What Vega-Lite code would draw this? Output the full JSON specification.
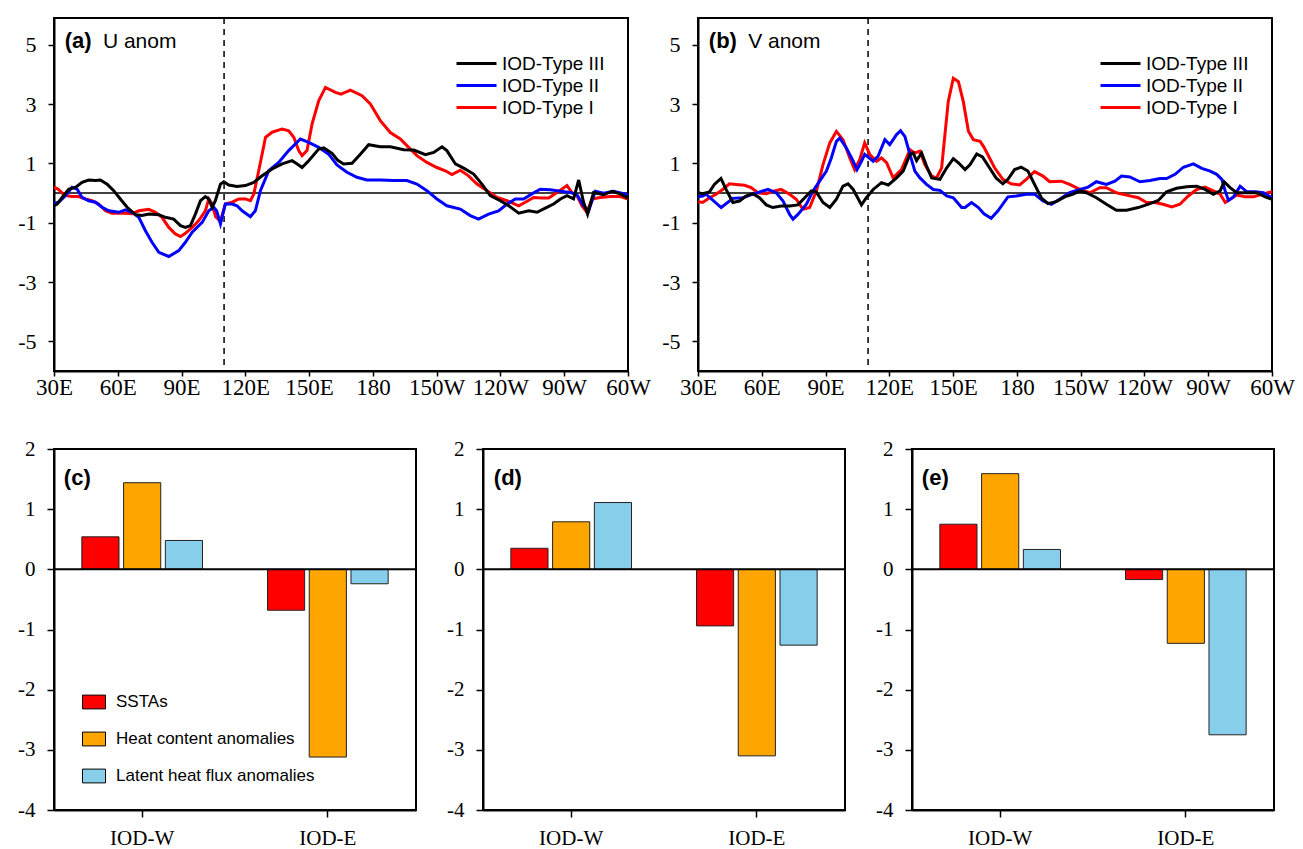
{
"$schema": "https://vega.github.io/schema/vega-lite/v6.json",
"background": "white",
"padding": {"left": 16, "top": 16, "right": 5, "bottom": 0},
"config": {
  "view": {"stroke": "black", "strokeWidth": 2},
  "axis": {"domainColor": "black", "domainWidth": 2, "tickColor": "black", "tickWidth": 1.5, "labelColor": "black", "labelFont": "Liberation Serif", "grid": false},
  "text": {"color": "black"}
},
"spacing": 37,
"datasets": {
"u": [
{"s":"IOD-Type I","lon":30,"val":0.2},{"s":"IOD-Type I","lon":32,"val":0.13},{"s":"IOD-Type I","lon":35,"val":-0.08},{"s":"IOD-Type I","lon":38.5,"val":-0.12},{"s":"IOD-Type I","lon":41.6,"val":-0.12},{"s":"IOD-Type I","lon":44.8,"val":-0.2},{"s":"IOD-Type I","lon":47.9,"val":-0.26},{"s":"IOD-Type I","lon":51,"val":-0.37},{"s":"IOD-Type I","lon":54.2,"val":-0.6},{"s":"IOD-Type I","lon":57.3,"val":-0.68},{"s":"IOD-Type I","lon":60.5,"val":-0.68},{"s":"IOD-Type I","lon":63.6,"val":-0.68},{"s":"IOD-Type I","lon":66.7,"val":-0.7},{"s":"IOD-Type I","lon":69.9,"val":-0.6},{"s":"IOD-Type I","lon":74.6,"val":-0.55},{"s":"IOD-Type I","lon":77.7,"val":-0.65},{"s":"IOD-Type I","lon":80.8,"val":-0.82},{"s":"IOD-Type I","lon":84,"val":-1.16},{"s":"IOD-Type I","lon":87.1,"val":-1.38},{"s":"IOD-Type I","lon":89.5,"val":-1.47},{"s":"IOD-Type I","lon":91.8,"val":-1.36},{"s":"IOD-Type I","lon":95,"val":-1.16},{"s":"IOD-Type I","lon":98.1,"val":-0.93},{"s":"IOD-Type I","lon":101.2,"val":-0.6},{"s":"IOD-Type I","lon":102.8,"val":-0.2},{"s":"IOD-Type I","lon":104.4,"val":-0.37},{"s":"IOD-Type I","lon":106,"val":-0.8},{"s":"IOD-Type I","lon":108.3,"val":-0.95},{"s":"IOD-Type I","lon":110.6,"val":-0.37},{"s":"IOD-Type I","lon":113.8,"val":-0.31},{"s":"IOD-Type I","lon":116.9,"val":-0.2},{"s":"IOD-Type I","lon":120,"val":-0.2},{"s":"IOD-Type I","lon":122.4,"val":-0.26},{"s":"IOD-Type I","lon":124,"val":-0.03},{"s":"IOD-Type I","lon":126.3,"val":0.75},{"s":"IOD-Type I","lon":129.5,"val":1.88},{"s":"IOD-Type I","lon":132.6,"val":2.05},{"s":"IOD-Type I","lon":137.3,"val":2.16},{"s":"IOD-Type I","lon":140.4,"val":2.1},{"s":"IOD-Type I","lon":142.8,"val":1.88},{"s":"IOD-Type I","lon":145.1,"val":1.43},{"s":"IOD-Type I","lon":146.7,"val":1.26},{"s":"IOD-Type I","lon":149,"val":1.43},{"s":"IOD-Type I","lon":151.4,"val":2.33},{"s":"IOD-Type I","lon":154.5,"val":3.11},{"s":"IOD-Type I","lon":157.7,"val":3.56},{"s":"IOD-Type I","lon":162.4,"val":3.39},{"s":"IOD-Type I","lon":165,"val":3.33},{"s":"IOD-Type I","lon":169.4,"val":3.47},{"s":"IOD-Type I","lon":174.9,"val":3.28},{"s":"IOD-Type I","lon":178.8,"val":3.0},{"s":"IOD-Type I","lon":183.5,"val":2.44},{"s":"IOD-Type I","lon":188.2,"val":2.04},{"s":"IOD-Type I","lon":192.9,"val":1.82},{"s":"IOD-Type I","lon":196.8,"val":1.54},{"s":"IOD-Type I","lon":200.7,"val":1.26},{"s":"IOD-Type I","lon":205.4,"val":1.03},{"s":"IOD-Type I","lon":210.1,"val":0.86},{"s":"IOD-Type I","lon":214.1,"val":0.75},{"s":"IOD-Type I","lon":217.2,"val":0.62},{"s":"IOD-Type I","lon":221.1,"val":0.77},{"s":"IOD-Type I","lon":225,"val":0.58},{"s":"IOD-Type I","lon":229,"val":0.3},{"s":"IOD-Type I","lon":233.7,"val":0.08},{"s":"IOD-Type I","lon":238.4,"val":-0.15},{"s":"IOD-Type I","lon":243.1,"val":-0.26},{"s":"IOD-Type I","lon":248.6,"val":-0.43},{"s":"IOD-Type I","lon":251.7,"val":-0.31},{"s":"IOD-Type I","lon":255.6,"val":-0.15},{"s":"IOD-Type I","lon":259.5,"val":-0.17},{"s":"IOD-Type I","lon":262.7,"val":-0.17},{"s":"IOD-Type I","lon":266.6,"val":0.02},{"s":"IOD-Type I","lon":271.3,"val":0.25},{"s":"IOD-Type I","lon":273.6,"val":0.02},{"s":"IOD-Type I","lon":276,"val":-0.09},{"s":"IOD-Type I","lon":278.3,"val":-0.43},{"s":"IOD-Type I","lon":280.7,"val":-0.65},{"s":"IOD-Type I","lon":283.1,"val":-0.2},{"s":"IOD-Type I","lon":287,"val":-0.15},{"s":"IOD-Type I","lon":291.7,"val":-0.12},{"s":"IOD-Type I","lon":296.4,"val":-0.12},{"s":"IOD-Type I","lon":300,"val":-0.2},
{"s":"IOD-Type II","lon":30,"val":-0.35},{"s":"IOD-Type II","lon":32.2,"val":-0.31},{"s":"IOD-Type II","lon":35.4,"val":-0.09},{"s":"IOD-Type II","lon":38.5,"val":0.19},{"s":"IOD-Type II","lon":40.9,"val":0.13},{"s":"IOD-Type II","lon":43.2,"val":-0.15},{"s":"IOD-Type II","lon":46.3,"val":-0.26},{"s":"IOD-Type II","lon":49.5,"val":-0.31},{"s":"IOD-Type II","lon":52.6,"val":-0.48},{"s":"IOD-Type II","lon":55.8,"val":-0.6},{"s":"IOD-Type II","lon":60.5,"val":-0.65},{"s":"IOD-Type II","lon":63.6,"val":-0.57},{"s":"IOD-Type II","lon":66.7,"val":-0.65},{"s":"IOD-Type II","lon":69.9,"val":-0.82},{"s":"IOD-Type II","lon":73,"val":-1.27},{"s":"IOD-Type II","lon":76.1,"val":-1.66},{"s":"IOD-Type II","lon":79.3,"val":-2.0},{"s":"IOD-Type II","lon":84,"val":-2.14},{"s":"IOD-Type II","lon":88.7,"val":-1.94},{"s":"IOD-Type II","lon":91.8,"val":-1.66},{"s":"IOD-Type II","lon":95,"val":-1.32},{"s":"IOD-Type II","lon":99.7,"val":-0.99},{"s":"IOD-Type II","lon":102.8,"val":-0.6},{"s":"IOD-Type II","lon":105.1,"val":-0.48},{"s":"IOD-Type II","lon":106.5,"val":-0.6},{"s":"IOD-Type II","lon":108.3,"val":-1.04},{"s":"IOD-Type II","lon":110.6,"val":-0.37},{"s":"IOD-Type II","lon":113.8,"val":-0.37},{"s":"IOD-Type II","lon":116.1,"val":-0.43},{"s":"IOD-Type II","lon":118.5,"val":-0.6},{"s":"IOD-Type II","lon":122.4,"val":-0.8},{"s":"IOD-Type II","lon":124.7,"val":-0.6},{"s":"IOD-Type II","lon":127.1,"val":0.08},{"s":"IOD-Type II","lon":131,"val":0.75},{"s":"IOD-Type II","lon":135.7,"val":1.03},{"s":"IOD-Type II","lon":140.4,"val":1.43},{"s":"IOD-Type II","lon":145.9,"val":1.82},{"s":"IOD-Type II","lon":149.8,"val":1.71},{"s":"IOD-Type II","lon":154.5,"val":1.54},{"s":"IOD-Type II","lon":159.2,"val":1.31},{"s":"IOD-Type II","lon":163.1,"val":0.95},{"s":"IOD-Type II","lon":167.8,"val":0.7},{"s":"IOD-Type II","lon":172.5,"val":0.53},{"s":"IOD-Type II","lon":177.2,"val":0.44},{"s":"IOD-Type II","lon":183.5,"val":0.44},{"s":"IOD-Type II","lon":189.8,"val":0.42},{"s":"IOD-Type II","lon":196,"val":0.42},{"s":"IOD-Type II","lon":200.7,"val":0.3},{"s":"IOD-Type II","lon":205.4,"val":0.08},{"s":"IOD-Type II","lon":210.1,"val":-0.2},{"s":"IOD-Type II","lon":214.8,"val":-0.43},{"s":"IOD-Type II","lon":221.1,"val":-0.54},{"s":"IOD-Type II","lon":225.8,"val":-0.76},{"s":"IOD-Type II","lon":229.7,"val":-0.88},{"s":"IOD-Type II","lon":234.4,"val":-0.71},{"s":"IOD-Type II","lon":239.1,"val":-0.6},{"s":"IOD-Type II","lon":243.1,"val":-0.37},{"s":"IOD-Type II","lon":247,"val":-0.2},{"s":"IOD-Type II","lon":250.9,"val":-0.2},{"s":"IOD-Type II","lon":254.8,"val":-0.03},{"s":"IOD-Type II","lon":258.7,"val":0.13},{"s":"IOD-Type II","lon":263.5,"val":0.11},{"s":"IOD-Type II","lon":268.2,"val":0.06},{"s":"IOD-Type II","lon":272.9,"val":0.02},{"s":"IOD-Type II","lon":276,"val":-0.06},{"s":"IOD-Type II","lon":279.1,"val":-0.43},{"s":"IOD-Type II","lon":281.5,"val":-0.6},{"s":"IOD-Type II","lon":284.6,"val":0.06},{"s":"IOD-Type II","lon":288.5,"val":-0.01},{"s":"IOD-Type II","lon":293.2,"val":0.06},{"s":"IOD-Type II","lon":300,"val":-0.06},
{"s":"IOD-Type III","lon":30,"val":-0.43},{"s":"IOD-Type III","lon":31.5,"val":-0.37},{"s":"IOD-Type III","lon":33.8,"val":-0.15},{"s":"IOD-Type III","lon":37,"val":0.13},{"s":"IOD-Type III","lon":40.1,"val":0.19},{"s":"IOD-Type III","lon":43.2,"val":0.36},{"s":"IOD-Type III","lon":46.3,"val":0.44},{"s":"IOD-Type III","lon":49.5,"val":0.42},{"s":"IOD-Type III","lon":51.8,"val":0.44},{"s":"IOD-Type III","lon":55,"val":0.3},{"s":"IOD-Type III","lon":58.1,"val":0.08},{"s":"IOD-Type III","lon":61.2,"val":-0.2},{"s":"IOD-Type III","lon":64.4,"val":-0.48},{"s":"IOD-Type III","lon":68.3,"val":-0.73},{"s":"IOD-Type III","lon":71.4,"val":-0.76},{"s":"IOD-Type III","lon":74.6,"val":-0.71},{"s":"IOD-Type III","lon":79.3,"val":-0.73},{"s":"IOD-Type III","lon":82.4,"val":-0.82},{"s":"IOD-Type III","lon":86.3,"val":-0.88},{"s":"IOD-Type III","lon":89.5,"val":-1.1},{"s":"IOD-Type III","lon":91.8,"val":-1.16},{"s":"IOD-Type III","lon":94.2,"val":-1.1},{"s":"IOD-Type III","lon":96.5,"val":-0.71},{"s":"IOD-Type III","lon":98.9,"val":-0.26},{"s":"IOD-Type III","lon":101.2,"val":-0.12},{"s":"IOD-Type III","lon":102.8,"val":-0.2},{"s":"IOD-Type III","lon":104.4,"val":-0.48},{"s":"IOD-Type III","lon":105.9,"val":-0.26},{"s":"IOD-Type III","lon":108.3,"val":0.3},{"s":"IOD-Type III","lon":109.9,"val":0.38},{"s":"IOD-Type III","lon":112.2,"val":0.27},{"s":"IOD-Type III","lon":116.1,"val":0.22},{"s":"IOD-Type III","lon":120,"val":0.25},{"s":"IOD-Type III","lon":124,"val":0.36},{"s":"IOD-Type III","lon":127.9,"val":0.58},{"s":"IOD-Type III","lon":132.6,"val":0.81},{"s":"IOD-Type III","lon":137.3,"val":0.98},{"s":"IOD-Type III","lon":142,"val":1.09},{"s":"IOD-Type III","lon":144.4,"val":0.98},{"s":"IOD-Type III","lon":146.7,"val":0.86},{"s":"IOD-Type III","lon":149.8,"val":1.09},{"s":"IOD-Type III","lon":154.5,"val":1.48},{"s":"IOD-Type III","lon":156.9,"val":1.52},{"s":"IOD-Type III","lon":160.8,"val":1.34},{"s":"IOD-Type III","lon":163.5,"val":1.1},{"s":"IOD-Type III","lon":166.2,"val":0.98},{"s":"IOD-Type III","lon":170.2,"val":1.0},{"s":"IOD-Type III","lon":174.1,"val":1.31},{"s":"IOD-Type III","lon":178,"val":1.63},{"s":"IOD-Type III","lon":183.5,"val":1.56},{"s":"IOD-Type III","lon":188.2,"val":1.56},{"s":"IOD-Type III","lon":194.5,"val":1.46},{"s":"IOD-Type III","lon":199.2,"val":1.45},{"s":"IOD-Type III","lon":204.7,"val":1.29},{"s":"IOD-Type III","lon":208.6,"val":1.37},{"s":"IOD-Type III","lon":212.5,"val":1.56},{"s":"IOD-Type III","lon":214.8,"val":1.43},{"s":"IOD-Type III","lon":218.8,"val":0.98},{"s":"IOD-Type III","lon":222.7,"val":0.84},{"s":"IOD-Type III","lon":227.4,"val":0.64},{"s":"IOD-Type III","lon":231.3,"val":0.3},{"s":"IOD-Type III","lon":235.2,"val":-0.09},{"s":"IOD-Type III","lon":239.9,"val":-0.26},{"s":"IOD-Type III","lon":243.9,"val":-0.43},{"s":"IOD-Type III","lon":248.6,"val":-0.68},{"s":"IOD-Type III","lon":253.3,"val":-0.6},{"s":"IOD-Type III","lon":257.2,"val":-0.65},{"s":"IOD-Type III","lon":261.1,"val":-0.51},{"s":"IOD-Type III","lon":265,"val":-0.37},{"s":"IOD-Type III","lon":268.2,"val":-0.2},{"s":"IOD-Type III","lon":271.3,"val":-0.09},{"s":"IOD-Type III","lon":274.4,"val":-0.2},{"s":"IOD-Type III","lon":276.8,"val":0.44},{"s":"IOD-Type III","lon":279.1,"val":-0.31},{"s":"IOD-Type III","lon":281,"val":-0.71},{"s":"IOD-Type III","lon":283.8,"val":0.02},{"s":"IOD-Type III","lon":288.5,"val":-0.06},{"s":"IOD-Type III","lon":292.5,"val":0.06},{"s":"IOD-Type III","lon":296.4,"val":-0.03},{"s":"IOD-Type III","lon":300,"val":-0.17}
],
"v": [
{"s":"IOD-Type I","lon":30,"val":-0.29},{"s":"IOD-Type I","lon":32.2,"val":-0.32},{"s":"IOD-Type I","lon":35.4,"val":-0.16},{"s":"IOD-Type I","lon":38.5,"val":-0.04},{"s":"IOD-Type I","lon":41.6,"val":0.12},{"s":"IOD-Type I","lon":44.8,"val":0.31},{"s":"IOD-Type I","lon":47.9,"val":0.29},{"s":"IOD-Type I","lon":51.9,"val":0.26},{"s":"IOD-Type I","lon":55,"val":0.18},{"s":"IOD-Type I","lon":58.1,"val":0.01},{"s":"IOD-Type I","lon":62.1,"val":-0.02},{"s":"IOD-Type I","lon":66,"val":0.07},{"s":"IOD-Type I","lon":69.1,"val":0.12},{"s":"IOD-Type I","lon":73.1,"val":-0.04},{"s":"IOD-Type I","lon":76.2,"val":-0.21},{"s":"IOD-Type I","lon":79.4,"val":-0.55},{"s":"IOD-Type I","lon":82.5,"val":-0.49},{"s":"IOD-Type I","lon":85.7,"val":0.07},{"s":"IOD-Type I","lon":88.8,"val":0.96},{"s":"IOD-Type I","lon":92,"val":1.69},{"s":"IOD-Type I","lon":95.1,"val":2.08},{"s":"IOD-Type I","lon":98.2,"val":1.8},{"s":"IOD-Type I","lon":101.4,"val":1.18},{"s":"IOD-Type I","lon":103.7,"val":0.79},{"s":"IOD-Type I","lon":106.1,"val":1.13},{"s":"IOD-Type I","lon":108.4,"val":1.69},{"s":"IOD-Type I","lon":110.8,"val":1.3},{"s":"IOD-Type I","lon":114,"val":1.07},{"s":"IOD-Type I","lon":116.3,"val":1.18},{"s":"IOD-Type I","lon":118.7,"val":1.02},{"s":"IOD-Type I","lon":121.8,"val":0.51},{"s":"IOD-Type I","lon":125.7,"val":0.79},{"s":"IOD-Type I","lon":129.7,"val":1.46},{"s":"IOD-Type I","lon":132,"val":1.35},{"s":"IOD-Type I","lon":134.4,"val":1.41},{"s":"IOD-Type I","lon":136.7,"val":0.96},{"s":"IOD-Type I","lon":139.9,"val":0.57},{"s":"IOD-Type I","lon":142.2,"val":0.51},{"s":"IOD-Type I","lon":144.6,"val":0.85},{"s":"IOD-Type I","lon":147.7,"val":3.08},{"s":"IOD-Type I","lon":150.1,"val":3.87},{"s":"IOD-Type I","lon":152.5,"val":3.75},{"s":"IOD-Type I","lon":154.8,"val":3.08},{"s":"IOD-Type I","lon":157.2,"val":2.08},{"s":"IOD-Type I","lon":159.5,"val":1.8},{"s":"IOD-Type I","lon":162.7,"val":1.74},{"s":"IOD-Type I","lon":164.5,"val":1.55},{"s":"IOD-Type I","lon":166.3,"val":1.3},{"s":"IOD-Type I","lon":169.5,"val":0.85},{"s":"IOD-Type I","lon":173.4,"val":0.46},{"s":"IOD-Type I","lon":177.3,"val":0.31},{"s":"IOD-Type I","lon":181.3,"val":0.27},{"s":"IOD-Type I","lon":184.4,"val":0.46},{"s":"IOD-Type I","lon":188.3,"val":0.72},{"s":"IOD-Type I","lon":192.3,"val":0.57},{"s":"IOD-Type I","lon":195.4,"val":0.38},{"s":"IOD-Type I","lon":200.9,"val":0.4},{"s":"IOD-Type I","lon":204.8,"val":0.29},{"s":"IOD-Type I","lon":209.6,"val":0.12},{"s":"IOD-Type I","lon":214.3,"val":0.01},{"s":"IOD-Type I","lon":219,"val":0.18},{"s":"IOD-Type I","lon":222.1,"val":0.18},{"s":"IOD-Type I","lon":226.8,"val":0.01},{"s":"IOD-Type I","lon":231.6,"val":-0.07},{"s":"IOD-Type I","lon":237.1,"val":-0.16},{"s":"IOD-Type I","lon":241,"val":-0.32},{"s":"IOD-Type I","lon":244.9,"val":-0.32},{"s":"IOD-Type I","lon":248.8,"val":-0.38},{"s":"IOD-Type I","lon":252.8,"val":-0.47},{"s":"IOD-Type I","lon":256.7,"val":-0.38},{"s":"IOD-Type I","lon":260.6,"val":-0.1},{"s":"IOD-Type I","lon":264.6,"val":0.12},{"s":"IOD-Type I","lon":268.5,"val":0.2},{"s":"IOD-Type I","lon":272.4,"val":0.07},{"s":"IOD-Type I","lon":275.6,"val":-0.04},{"s":"IOD-Type I","lon":278,"val":-0.32},{"s":"IOD-Type I","lon":280.3,"val":-0.21},{"s":"IOD-Type I","lon":283.4,"val":-0.07},{"s":"IOD-Type I","lon":287.4,"val":-0.13},{"s":"IOD-Type I","lon":291.3,"val":-0.13},{"s":"IOD-Type I","lon":295.2,"val":-0.04},{"s":"IOD-Type I","lon":300,"val":0.04},
{"s":"IOD-Type II","lon":30,"val":-0.13},{"s":"IOD-Type II","lon":32.2,"val":-0.1},{"s":"IOD-Type II","lon":33.8,"val":-0.04},{"s":"IOD-Type II","lon":40.9,"val":-0.49},{"s":"IOD-Type II","lon":46.4,"val":-0.18},{"s":"IOD-Type II","lon":51.1,"val":-0.16},{"s":"IOD-Type II","lon":55.8,"val":-0.04},{"s":"IOD-Type II","lon":60.5,"val":0.07},{"s":"IOD-Type II","lon":62.9,"val":0.12},{"s":"IOD-Type II","lon":66.8,"val":0.01},{"s":"IOD-Type II","lon":70,"val":-0.27},{"s":"IOD-Type II","lon":73.1,"val":-0.72},{"s":"IOD-Type II","lon":74.7,"val":-0.88},{"s":"IOD-Type II","lon":77,"val":-0.72},{"s":"IOD-Type II","lon":81,"val":-0.38},{"s":"IOD-Type II","lon":84.1,"val":0.07},{"s":"IOD-Type II","lon":87.2,"val":0.4},{"s":"IOD-Type II","lon":90.4,"val":0.74},{"s":"IOD-Type II","lon":92.7,"val":1.18},{"s":"IOD-Type II","lon":95.1,"val":1.74},{"s":"IOD-Type II","lon":96.7,"val":1.85},{"s":"IOD-Type II","lon":99.8,"val":1.52},{"s":"IOD-Type II","lon":103,"val":1.07},{"s":"IOD-Type II","lon":104.8,"val":0.79},{"s":"IOD-Type II","lon":106.9,"val":1.07},{"s":"IOD-Type II","lon":108.4,"val":1.3},{"s":"IOD-Type II","lon":112.4,"val":1.07},{"s":"IOD-Type II","lon":114.7,"val":1.24},{"s":"IOD-Type II","lon":117.9,"val":1.8},{"s":"IOD-Type II","lon":120.2,"val":1.63},{"s":"IOD-Type II","lon":123.4,"val":1.97},{"s":"IOD-Type II","lon":125.3,"val":2.1},{"s":"IOD-Type II","lon":127.3,"val":1.91},{"s":"IOD-Type II","lon":129.7,"val":1.3},{"s":"IOD-Type II","lon":132,"val":0.74},{"s":"IOD-Type II","lon":134.4,"val":0.51},{"s":"IOD-Type II","lon":137.5,"val":0.29},{"s":"IOD-Type II","lon":140.7,"val":0.12},{"s":"IOD-Type II","lon":143.8,"val":0.09},{"s":"IOD-Type II","lon":147,"val":-0.1},{"s":"IOD-Type II","lon":150.1,"val":-0.16},{"s":"IOD-Type II","lon":154,"val":-0.49},{"s":"IOD-Type II","lon":155.6,"val":-0.49},{"s":"IOD-Type II","lon":158.7,"val":-0.32},{"s":"IOD-Type II","lon":161.9,"val":-0.49},{"s":"IOD-Type II","lon":164.5,"val":-0.7},{"s":"IOD-Type II","lon":167.9,"val":-0.85},{"s":"IOD-Type II","lon":171.1,"val":-0.6},{"s":"IOD-Type II","lon":175.8,"val":-0.13},{"s":"IOD-Type II","lon":179.7,"val":-0.1},{"s":"IOD-Type II","lon":184.4,"val":-0.04},{"s":"IOD-Type II","lon":188.3,"val":-0.04},{"s":"IOD-Type II","lon":192.3,"val":-0.27},{"s":"IOD-Type II","lon":196.2,"val":-0.38},{"s":"IOD-Type II","lon":200.1,"val":-0.21},{"s":"IOD-Type II","lon":204.8,"val":0.01},{"s":"IOD-Type II","lon":209.6,"val":0.12},{"s":"IOD-Type II","lon":213.5,"val":0.2},{"s":"IOD-Type II","lon":217.4,"val":0.38},{"s":"IOD-Type II","lon":222.1,"val":0.29},{"s":"IOD-Type II","lon":226.1,"val":0.4},{"s":"IOD-Type II","lon":229.2,"val":0.57},{"s":"IOD-Type II","lon":233.1,"val":0.54},{"s":"IOD-Type II","lon":237.9,"val":0.38},{"s":"IOD-Type II","lon":242.6,"val":0.42},{"s":"IOD-Type II","lon":247.3,"val":0.49},{"s":"IOD-Type II","lon":250.4,"val":0.49},{"s":"IOD-Type II","lon":254.4,"val":0.63},{"s":"IOD-Type II","lon":258.3,"val":0.87},{"s":"IOD-Type II","lon":263,"val":0.98},{"s":"IOD-Type II","lon":267,"val":0.83},{"s":"IOD-Type II","lon":270.9,"val":0.74},{"s":"IOD-Type II","lon":274,"val":0.63},{"s":"IOD-Type II","lon":276.4,"val":0.46},{"s":"IOD-Type II","lon":278,"val":0.07},{"s":"IOD-Type II","lon":279.5,"val":-0.25},{"s":"IOD-Type II","lon":281.9,"val":-0.13},{"s":"IOD-Type II","lon":285,"val":0.23},{"s":"IOD-Type II","lon":288.2,"val":0.04},{"s":"IOD-Type II","lon":292.1,"val":0.04},{"s":"IOD-Type II","lon":296,"val":0.01},{"s":"IOD-Type II","lon":300,"val":-0.16},
{"s":"IOD-Type III","lon":30,"val":0.01},{"s":"IOD-Type III","lon":32.2,"val":-0.02},{"s":"IOD-Type III","lon":35.4,"val":0.04},{"s":"IOD-Type III","lon":37.7,"val":0.29},{"s":"IOD-Type III","lon":40.8,"val":0.49},{"s":"IOD-Type III","lon":43.2,"val":0.12},{"s":"IOD-Type III","lon":46.4,"val":-0.32},{"s":"IOD-Type III","lon":49.5,"val":-0.27},{"s":"IOD-Type III","lon":52.6,"val":-0.1},{"s":"IOD-Type III","lon":55.8,"val":-0.02},{"s":"IOD-Type III","lon":58.9,"val":-0.16},{"s":"IOD-Type III","lon":62.1,"val":-0.4},{"s":"IOD-Type III","lon":65.2,"val":-0.49},{"s":"IOD-Type III","lon":69.1,"val":-0.44},{"s":"IOD-Type III","lon":73.1,"val":-0.44},{"s":"IOD-Type III","lon":77,"val":-0.4},{"s":"IOD-Type III","lon":80.2,"val":-0.16},{"s":"IOD-Type III","lon":83.3,"val":0.07},{"s":"IOD-Type III","lon":85.7,"val":0.03},{"s":"IOD-Type III","lon":88.8,"val":-0.32},{"s":"IOD-Type III","lon":92,"val":-0.49},{"s":"IOD-Type III","lon":95.1,"val":-0.21},{"s":"IOD-Type III","lon":98.2,"val":0.23},{"s":"IOD-Type III","lon":100.6,"val":0.31},{"s":"IOD-Type III","lon":103,"val":0.12},{"s":"IOD-Type III","lon":106.9,"val":-0.4},{"s":"IOD-Type III","lon":109.2,"val":-0.16},{"s":"IOD-Type III","lon":112.4,"val":0.12},{"s":"IOD-Type III","lon":116.3,"val":0.35},{"s":"IOD-Type III","lon":119.5,"val":0.27},{"s":"IOD-Type III","lon":123.4,"val":0.51},{"s":"IOD-Type III","lon":126.5,"val":0.74},{"s":"IOD-Type III","lon":129.7,"val":1.3},{"s":"IOD-Type III","lon":131.2,"val":1.35},{"s":"IOD-Type III","lon":132.8,"val":1.09},{"s":"IOD-Type III","lon":135.2,"val":1.35},{"s":"IOD-Type III","lon":137.5,"val":0.91},{"s":"IOD-Type III","lon":139.9,"val":0.51},{"s":"IOD-Type III","lon":143.8,"val":0.46},{"s":"IOD-Type III","lon":147,"val":0.85},{"s":"IOD-Type III","lon":150.1,"val":1.16},{"s":"IOD-Type III","lon":152.5,"val":1.02},{"s":"IOD-Type III","lon":155.6,"val":0.79},{"s":"IOD-Type III","lon":158,"val":0.96},{"s":"IOD-Type III","lon":161.1,"val":1.32},{"s":"IOD-Type III","lon":163.8,"val":1.22},{"s":"IOD-Type III","lon":167.1,"val":0.85},{"s":"IOD-Type III","lon":170.2,"val":0.51},{"s":"IOD-Type III","lon":173.4,"val":0.31},{"s":"IOD-Type III","lon":175.8,"val":0.46},{"s":"IOD-Type III","lon":178.9,"val":0.79},{"s":"IOD-Type III","lon":182,"val":0.87},{"s":"IOD-Type III","lon":185.2,"val":0.74},{"s":"IOD-Type III","lon":188.3,"val":0.29},{"s":"IOD-Type III","lon":191.5,"val":-0.16},{"s":"IOD-Type III","lon":194.6,"val":-0.36},{"s":"IOD-Type III","lon":198.5,"val":-0.29},{"s":"IOD-Type III","lon":202.5,"val":-0.13},{"s":"IOD-Type III","lon":206.4,"val":-0.04},{"s":"IOD-Type III","lon":209.6,"val":0.07},{"s":"IOD-Type III","lon":212.7,"val":0.01},{"s":"IOD-Type III","lon":217.4,"val":-0.16},{"s":"IOD-Type III","lon":222.1,"val":-0.38},{"s":"IOD-Type III","lon":226.8,"val":-0.58},{"s":"IOD-Type III","lon":231.6,"val":-0.58},{"s":"IOD-Type III","lon":237.1,"val":-0.49},{"s":"IOD-Type III","lon":242.6,"val":-0.36},{"s":"IOD-Type III","lon":246.5,"val":-0.25},{"s":"IOD-Type III","lon":250.4,"val":0.04},{"s":"IOD-Type III","lon":255.1,"val":0.16},{"s":"IOD-Type III","lon":259.9,"val":0.21},{"s":"IOD-Type III","lon":264.6,"val":0.23},{"s":"IOD-Type III","lon":268.5,"val":0.12},{"s":"IOD-Type III","lon":272.4,"val":-0.04},{"s":"IOD-Type III","lon":275.6,"val":0.07},{"s":"IOD-Type III","lon":277.5,"val":0.38},{"s":"IOD-Type III","lon":280.3,"val":0.18},{"s":"IOD-Type III","lon":283.4,"val":0.01},{"s":"IOD-Type III","lon":288.2,"val":0.01},{"s":"IOD-Type III","lon":292.9,"val":0.01},{"s":"IOD-Type III","lon":296.8,"val":-0.13},{"s":"IOD-Type III","lon":300,"val":-0.21}
],
"bars": [
{"panel":"c","region":"IOD-W","var":"SSTAs","val":0.54},{"panel":"c","region":"IOD-W","var":"Heat content anomalies","val":1.44},{"panel":"c","region":"IOD-W","var":"Latent heat flux anomalies","val":0.48},
{"panel":"c","region":"IOD-E","var":"SSTAs","val":-0.68},{"panel":"c","region":"IOD-E","var":"Heat content anomalies","val":-3.12},{"panel":"c","region":"IOD-E","var":"Latent heat flux anomalies","val":-0.24},
{"panel":"d","region":"IOD-W","var":"SSTAs","val":0.35},{"panel":"d","region":"IOD-W","var":"Heat content anomalies","val":0.79},{"panel":"d","region":"IOD-W","var":"Latent heat flux anomalies","val":1.11},
{"panel":"d","region":"IOD-E","var":"SSTAs","val":-0.94},{"panel":"d","region":"IOD-E","var":"Heat content anomalies","val":-3.1},{"panel":"d","region":"IOD-E","var":"Latent heat flux anomalies","val":-1.26},
{"panel":"e","region":"IOD-W","var":"SSTAs","val":0.75},{"panel":"e","region":"IOD-W","var":"Heat content anomalies","val":1.59},{"panel":"e","region":"IOD-W","var":"Latent heat flux anomalies","val":0.33},
{"panel":"e","region":"IOD-E","var":"SSTAs","val":-0.17},{"panel":"e","region":"IOD-E","var":"Heat content anomalies","val":-1.23},{"panel":"e","region":"IOD-E","var":"Latent heat flux anomalies","val":-2.75}
]
},
"vconcat": [
{
 "hconcat": [
  {
   "width": 574, "height": 353,
   "layer": [
    {"data": {"values": [{"k": 1}]}, "mark": {"type": "rule", "color": "black", "strokeWidth": 1.3}, "encoding": {"y": {"datum": 0, "type": "quantitative"}}},
    {"data": {"values": [{"k": 1}]}, "mark": {"type": "rule", "color": "black", "strokeWidth": 1.5, "strokeDash": [6, 5]}, "encoding": {"x": {"datum": 110, "type": "quantitative"}}},
    {"data": {"name": "u"}, "mark": {"type": "line", "strokeWidth": 3},
     "encoding": {
      "x": {"field": "lon", "type": "quantitative", "scale": {"domain": [30, 300], "nice": false, "zero": false},
            "axis": {"title": null, "values": [30,60,90,120,150,180,210,240,270,300], "labelExpr": "datum.value < 180 ? datum.value + 'E' : (datum.value == 180 ? '180' : (360 - datum.value) + 'W')", "labelFontSize": 23, "labelFlush": false, "labelOverlap": false, "tickSize": 5, "labelPadding": 0}},
      "y": {"field": "val", "type": "quantitative", "scale": {"domain": [-6, 5.9], "nice": false, "zero": false},
            "axis": {"title": null, "values": [-5,-3,-1,1,3,5], "labelExpr": "'' + datum.value", "labelFontSize": 22, "tickSize": 6, "labelPadding": 12}},
      "color": {"field": "s", "type": "nominal", "scale": {"domain": ["IOD-Type III", "IOD-Type II", "IOD-Type I"], "range": ["#000000", "#0000FF", "#FF0000"]},
            "legend": {"title": null, "orient": "none", "legendX": 401, "legendY": 36, "symbolType": "stroke", "symbolSize": 1600, "symbolStrokeWidth": 3, "clipHeight": 19, "labelFont": "Liberation Sans", "labelFontSize": 19, "labelColor": "black", "labelLimit": 400, "rowPadding": 2, "labelOffset": 4, "padding": 0}}
     }},
    {"data": {"values": [{"t": "(a)"}]}, "mark": {"type": "text", "font": "Liberation Sans", "fontWeight": "bold", "fontSize": 22, "align": "left", "baseline": "alphabetic"}, "encoding": {"x": {"datum": 35, "type": "quantitative"}, "y": {"datum": 4.89, "type": "quantitative"}, "text": {"field": "t"}}},
    {"data": {"values": [{"t": "U anom"}]}, "mark": {"type": "text", "font": "Liberation Sans", "fontSize": 21, "align": "left", "baseline": "alphabetic"}, "encoding": {"x": {"datum": 53, "type": "quantitative"}, "y": {"datum": 4.89, "type": "quantitative"}, "text": {"field": "t"}}}
   ]
  },
  {
   "width": 574, "height": 353,
   "layer": [
    {"data": {"values": [{"k": 1}]}, "mark": {"type": "rule", "color": "black", "strokeWidth": 1.3}, "encoding": {"y": {"datum": 0, "type": "quantitative"}}},
    {"data": {"values": [{"k": 1}]}, "mark": {"type": "rule", "color": "black", "strokeWidth": 1.5, "strokeDash": [6, 5]}, "encoding": {"x": {"datum": 110, "type": "quantitative"}}},
    {"data": {"name": "v"}, "mark": {"type": "line", "strokeWidth": 3},
     "encoding": {
      "x": {"field": "lon", "type": "quantitative", "scale": {"domain": [30, 300], "nice": false, "zero": false},
            "axis": {"title": null, "values": [30,60,90,120,150,180,210,240,270,300], "labelExpr": "datum.value < 180 ? datum.value + 'E' : (datum.value == 180 ? '180' : (360 - datum.value) + 'W')", "labelFontSize": 23, "labelFlush": false, "labelOverlap": false, "tickSize": 5, "labelPadding": 0}},
      "y": {"field": "val", "type": "quantitative", "scale": {"domain": [-6, 5.9], "nice": false, "zero": false},
            "axis": {"title": null, "values": [-5,-3,-1,1,3,5], "labelExpr": "'' + datum.value", "labelFontSize": 22, "tickSize": 6, "labelPadding": 12}},
      "color": {"field": "s", "type": "nominal", "scale": {"domain": ["IOD-Type III", "IOD-Type II", "IOD-Type I"], "range": ["#000000", "#0000FF", "#FF0000"]},
            "legend": {"title": null, "orient": "none", "legendX": 401, "legendY": 36, "symbolType": "stroke", "symbolSize": 1600, "symbolStrokeWidth": 3, "clipHeight": 19, "labelFont": "Liberation Sans", "labelFontSize": 19, "labelColor": "black", "labelLimit": 400, "rowPadding": 2, "labelOffset": 4, "padding": 0}}
     }},
    {"data": {"values": [{"t": "(b)"}]}, "mark": {"type": "text", "font": "Liberation Sans", "fontWeight": "bold", "fontSize": 22, "align": "left", "baseline": "alphabetic"}, "encoding": {"x": {"datum": 35.1, "type": "quantitative"}, "y": {"datum": 4.89, "type": "quantitative"}, "text": {"field": "t"}}},
    {"data": {"values": [{"t": "V anom"}]}, "mark": {"type": "text", "font": "Liberation Sans", "fontSize": 21, "align": "left", "baseline": "alphabetic"}, "encoding": {"x": {"datum": 53.6, "type": "quantitative"}, "y": {"datum": 4.89, "type": "quantitative"}, "text": {"field": "t"}}}
   ]
  }
 ],
 "spacing": 70,
 "bounds": "flush",
 "resolve": {"scale": {"color": "independent", "x": "independent", "y": "independent"}, "legend": {"color": "independent"}}
},
{
 "hconcat": [
  {
   "width": 362, "height": 361,
   "layer": [
    {"data": {"name": "bars"}, "transform": [{"filter": "datum.panel == 'c'"}], "mark": {"type": "bar", "stroke": "#222222", "strokeWidth": 1},
     "encoding": {
      "x": {"field": "region", "type": "nominal", "sort": ["IOD-W", "IOD-E"], "scale": {"paddingInner": 0.35, "paddingOuter": 0.15},
            "axis": {"title": null, "labelAngle": 0, "labelFontSize": 21, "tickSize": 7, "labelPadding": 10}},
      "xOffset": {"field": "var", "type": "nominal", "sort": ["SSTAs", "Heat content anomalies", "Latent heat flux anomalies"], "scale": {"paddingInner": 0.11, "paddingOuter": 0}},
      "y": {"field": "val", "type": "quantitative", "scale": {"domain": [-4, 2], "nice": false},
            "axis": {"title": null, "values": [-4,-3,-2,-1,0,1,2], "labelExpr": "'' + datum.value", "labelFontSize": 21, "tickSize": 7, "labelPadding": 12}},
      "color": {"field": "var", "type": "nominal", "scale": {"domain": ["SSTAs", "Heat content anomalies", "Latent heat flux anomalies"], "range": ["#FF0000", "#FFA500", "#87CEEB"]},
            "legend": {"title": null, "orient": "none", "legendX": 28, "legendY": 241, "symbolType": "M-1,-0.6L1,-0.6L1,0.6L-1,0.6Z", "symbolSize": 529, "symbolStrokeColor": "black", "symbolStrokeWidth": 1, "symbolOpacity": 1, "labelFont": "Liberation Sans", "labelFontSize": 17, "labelColor": "black", "labelLimit": 400, "labelOffset": 10, "rowPadding": 16, "padding": 0}}
     }},
    {"data": {"values": [{"k": 1}]}, "mark": {"type": "rule", "color": "black", "strokeWidth": 2}, "encoding": {"y": {"datum": 0, "type": "quantitative"}}},
    {"data": {"values": [{"t": "(c)"}]}, "mark": {"type": "text", "font": "Liberation Sans", "fontWeight": "bold", "fontSize": 22, "align": "left", "baseline": "alphabetic", "dx": -18}, "encoding": {"x": {"datum": "IOD-W", "type": "nominal", "bandPosition": 0}, "y": {"datum": 1.4, "type": "quantitative"}, "text": {"field": "t"}}}
   ]
  },
  {
   "width": 362, "height": 361,
   "layer": [
    {"data": {"name": "bars"}, "transform": [{"filter": "datum.panel == 'd'"}], "mark": {"type": "bar", "stroke": "#222222", "strokeWidth": 1},
     "encoding": {
      "x": {"field": "region", "type": "nominal", "sort": ["IOD-W", "IOD-E"], "scale": {"paddingInner": 0.35, "paddingOuter": 0.15},
            "axis": {"title": null, "labelAngle": 0, "labelFontSize": 21, "tickSize": 7, "labelPadding": 10}},
      "xOffset": {"field": "var", "type": "nominal", "sort": ["SSTAs", "Heat content anomalies", "Latent heat flux anomalies"], "scale": {"paddingInner": 0.11, "paddingOuter": 0}},
      "y": {"field": "val", "type": "quantitative", "scale": {"domain": [-4, 2], "nice": false},
            "axis": {"title": null, "values": [-4,-3,-2,-1,0,1,2], "labelExpr": "'' + datum.value", "labelFontSize": 21, "tickSize": 7, "labelPadding": 12}},
      "color": {"field": "var", "type": "nominal", "scale": {"domain": ["SSTAs", "Heat content anomalies", "Latent heat flux anomalies"], "range": ["#FF0000", "#FFA500", "#87CEEB"]}, "legend": null}
     }},
    {"data": {"values": [{"k": 1}]}, "mark": {"type": "rule", "color": "black", "strokeWidth": 2}, "encoding": {"y": {"datum": 0, "type": "quantitative"}}},
    {"data": {"values": [{"t": "(d)"}]}, "mark": {"type": "text", "font": "Liberation Sans", "fontWeight": "bold", "fontSize": 22, "align": "left", "baseline": "alphabetic", "dx": -17}, "encoding": {"x": {"datum": "IOD-W", "type": "nominal", "bandPosition": 0}, "y": {"datum": 1.4, "type": "quantitative"}, "text": {"field": "t"}}}
   ]
  },
  {
   "width": 362, "height": 361,
   "layer": [
    {"data": {"name": "bars"}, "transform": [{"filter": "datum.panel == 'e'"}], "mark": {"type": "bar", "stroke": "#222222", "strokeWidth": 1},
     "encoding": {
      "x": {"field": "region", "type": "nominal", "sort": ["IOD-W", "IOD-E"], "scale": {"paddingInner": 0.35, "paddingOuter": 0.15},
            "axis": {"title": null, "labelAngle": 0, "labelFontSize": 21, "tickSize": 7, "labelPadding": 10}},
      "xOffset": {"field": "var", "type": "nominal", "sort": ["SSTAs", "Heat content anomalies", "Latent heat flux anomalies"], "scale": {"paddingInner": 0.11, "paddingOuter": 0}},
      "y": {"field": "val", "type": "quantitative", "scale": {"domain": [-4, 2], "nice": false},
            "axis": {"title": null, "values": [-4,-3,-2,-1,0,1,2], "labelExpr": "'' + datum.value", "labelFontSize": 21, "tickSize": 7, "labelPadding": 12}},
      "color": {"field": "var", "type": "nominal", "scale": {"domain": ["SSTAs", "Heat content anomalies", "Latent heat flux anomalies"], "range": ["#FF0000", "#FFA500", "#87CEEB"]}, "legend": null}
     }},
    {"data": {"values": [{"k": 1}]}, "mark": {"type": "rule", "color": "black", "strokeWidth": 2}, "encoding": {"y": {"datum": 0, "type": "quantitative"}}},
    {"data": {"values": [{"t": "(e)"}]}, "mark": {"type": "text", "font": "Liberation Sans", "fontWeight": "bold", "fontSize": 22, "align": "left", "baseline": "alphabetic", "dx": -18}, "encoding": {"x": {"datum": "IOD-W", "type": "nominal", "bandPosition": 0}, "y": {"datum": 1.4, "type": "quantitative"}, "text": {"field": "t"}}}
   ]
  }
 ],
 "spacing": 67,
 "bounds": "flush",
 "resolve": {"scale": {"color": "independent", "x": "independent", "y": "independent"}, "legend": {"color": "independent"}}
}
]
}
